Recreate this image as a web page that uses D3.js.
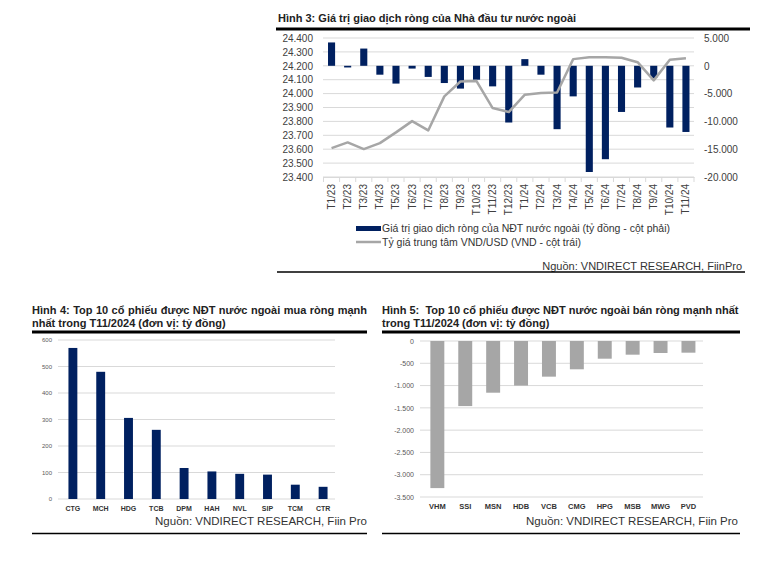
<!DOCTYPE html>
<html><head><meta charset="utf-8">
<script src="https://cdn.jsdelivr.net/npm/d3@7"></script>
<style>
body{margin:0;background:#fff;}
svg{display:block;font-family:"Liberation Sans",Arial,sans-serif;}
</style></head>
<body>
<svg id="c" width="775" height="577"></svg>
<script>
// ---------- DATA ----------
const months = ["T1/23","T2/23","T3/23","T4/23","T5/23","T6/23","T7/23","T8/23","T9/23","T10/23","T11/23","T12/23",
  "T1/24","T2/24","T3/24","T4/24","T5/24","T6/24","T7/24","T8/24","T9/24","T10/24","T11/24"];
const netFlow = [4200,-300,3100,-1600,-3200,-500,-2000,-3100,-4100,-2500,-3700,-10200,
  1200,-1600,-11400,-5500,-19100,-16800,-8300,-3900,-2200,-11100,-11900];
const fxRate = [23608,23649,23601,23644,23721,23802,23735,23980,24087,24090,23896,23867,
  23992,24004,24008,24248,24262,24262,24258,24226,24095,24243,24255];
const leftTicks = [23400,23500,23600,23700,23800,23900,24000,24100,24200,24300,24400];
const rightTicks = [-20000,-15000,-10000,-5000,0,5000];

const buyStocks = ["CTG","MCH","HDG","TCB","DPM","HAH","NVL","SIP","TCM","CTR"];
const buyValues = [570,480,306,261,117,104,95,92,54,46];
const buyTicks = [0,100,200,300,400,500,600];

const sellStocks = ["VHM","SSI","MSN","HDB","VCB","CMG","HPG","MSB","MWG","PVD"];
const sellValues = [-3300,-1460,-1160,-1000,-800,-635,-397,-307,-269,-262];
const sellTicks = [-3500,-3000,-2500,-2000,-1500,-1000,-500,0];

const title3 = "Hình 3: Giá trị giao dịch ròng của Nhà đầu tư nước ngoài";
const title4 = ["Hình 4: Top 10 cổ phiếu được NĐT nước ngoài mua ròng mạnh","nhất trong T11/2024 (đơn vị: tỷ đồng)"];
const title5 = ["Hình 5:  Top 10 cổ phiếu được NĐT nước ngoài bán ròng mạnh nhất","trong T11/2024 (đơn vị: tỷ đồng)"];
const legend3 = ["Giá trị giao dịch ròng của NĐT nước ngoài (tỷ đồng - cột phải)","Tỷ giá trung tâm VND/USD (VND - cột trái)"];
const source3 = "Nguồn: VNDIRECT RESEARCH, FiinPro";
const source45 = "Nguồn: VNDIRECT RESEARCH, Fiin Pro";

// ---------- SETUP ----------
const loc = d3.formatLocale({decimal:",",thousands:".",grouping:[3],currency:["",""],minus:"-"});
const fmt = loc.format(",.0f");
const svg = d3.select("#c");
const NAVY = "#002060", GRAY = "#a6a6a6", GRID = "#d9d9d9", TXT = "#404040";

function rule(x1,x2,y,w){ svg.append("line").attr("x1",x1).attr("x2",x2).attr("y1",y).attr("y2",y).attr("stroke","#000").attr("stroke-width",w); }
function justify(sel, width){
  const n = sel.node(); const len = n.getComputedTextLength();
  const spaces = (sel.text().match(/ /g)||[]).length;
  if (spaces>0 && len<width) sel.attr("word-spacing",(width-len)/spaces);
}

// ---------- CHART 1 ----------
svg.append("text").attr("x",278).attr("y",22).attr("font-size",11).attr("font-weight","bold").attr("fill","#222").text(title3);
rule(276,750,29,3);

const x1 = d3.scaleBand().domain(months).range([323.5,694]).paddingInner(0.56).paddingOuter(0.28);
const yL = d3.scaleLinear().domain([23400,24400]).range([177,38]);
const yR = d3.scaleLinear().domain([-20000,5000]).range([177,38]);
const g1 = svg.append("g");
g1.selectAll("line.grid").data(leftTicks).join("line").attr("class","grid")
  .attr("x1",323).attr("x2",694).attr("y1",d=>yL(d)).attr("y2",d=>yL(d)).attr("stroke",GRID).attr("stroke-width",1);
// left axis
const axL = g1.append("g").attr("transform","translate(323,0)").call(d3.axisLeft(yL).tickValues(leftTicks).tickFormat(fmt).tickSize(0).tickPadding(10));
axL.select(".domain").remove();
axL.selectAll("text").attr("font-size",10).attr("fill",TXT).attr("font-family","Liberation Sans, Arial");
// right axis
const axR = g1.append("g").attr("transform","translate(694,0)").call(d3.axisRight(yR).tickValues(rightTicks).tickFormat(fmt).tickSize(0).tickPadding(10));
axR.select(".domain").remove();
axR.selectAll("text").attr("font-size",10).attr("fill",TXT).attr("font-family","Liberation Sans, Arial");
// bars
g1.selectAll("rect.bar").data(months).join("rect").attr("class","bar")
  .attr("x",d=>x1(d)).attr("width",x1.bandwidth())
  .attr("y",(d,i)=>yR(Math.max(0,netFlow[i]))).attr("height",(d,i)=>Math.abs(yR(netFlow[i])-yR(0)))
  .attr("fill",NAVY);
// line
const line = d3.line().x((d,i)=>x1(months[i])+x1.bandwidth()/2).y(d=>yL(d));
g1.append("path").datum(fxRate).attr("d",line).attr("fill","none").attr("stroke",GRAY).attr("stroke-width",2.5).attr("stroke-linejoin","round");
// bottom axis
const axB = g1.append("g").attr("transform","translate(0,177)").call(d3.axisBottom(x1).tickSize(0).tickPadding(0));
axB.select(".domain").attr("stroke",GRID);
axB.selectAll("text").remove();
const step = x1.step();
g1.selectAll("line.tk").data(d3.range(months.length+1)).join("line").attr("class","tk")
  .attr("x1",i=>323.5+i*step).attr("x2",i=>323.5+i*step).attr("y1",177).attr("y2",182).attr("stroke",GRID);
g1.selectAll("text.xl").data(months).join("text").attr("class","xl")
  .attr("transform",d=>`translate(${x1(d)+x1.bandwidth()/2+3.5},184) rotate(-90)`)
  .attr("text-anchor","end").attr("font-size",10).attr("fill",TXT).text(d=>d);
// legend
svg.append("rect").attr("x",356).attr("y",226).attr("width",25).attr("height",5).attr("fill",NAVY);
svg.append("text").attr("x",382).attr("y",232).attr("font-size",10.5).attr("fill","#333").text(legend3[0]);
svg.append("line").attr("x1",356).attr("x2",381).attr("y1",242).attr("y2",242).attr("stroke",GRAY).attr("stroke-width",2.5);
svg.append("text").attr("x",382).attr("y",246).attr("font-size",10.5).attr("fill","#333").text(legend3[1]);
svg.append("text").attr("x",742).attr("y",270).attr("text-anchor","end").attr("font-size",11).attr("fill","#333").text(source3);
rule(277,745,272,1.5);

// ---------- CHART 2 ----------
const t4a = svg.append("text").attr("x",32).attr("y",314).attr("font-size",11).attr("font-weight","bold").attr("fill","#222").text(title4[0]);
justify(t4a, 335);
svg.append("text").attr("x",32).attr("y",327).attr("font-size",11).attr("font-weight","bold").attr("fill","#222").text(title4[1]);
rule(32,367,332,3);
const x2 = d3.scaleBand().domain(buyStocks).range([59,337]).paddingInner(0.68).paddingOuter(0.34);
const y2 = d3.scaleLinear().domain([0,600]).range([499,340]);
const g2 = svg.append("g");
g2.selectAll("line").data(buyTicks).join("line").attr("x1",58).attr("x2",335).attr("y1",d=>y2(d)).attr("y2",d=>y2(d)).attr("stroke",GRID);
const ax2 = g2.append("g").attr("transform","translate(58,0)").call(d3.axisLeft(y2).tickValues(buyTicks).tickFormat(fmt).tickSize(0).tickPadding(6));
ax2.select(".domain").remove();
ax2.selectAll("text").attr("font-size",6).attr("fill","#595959").attr("font-family","Liberation Sans, Arial");
g2.selectAll("rect").data(buyStocks).join("rect").attr("x",d=>x2(d)).attr("width",x2.bandwidth())
  .attr("y",(d,i)=>y2(buyValues[i])).attr("height",(d,i)=>y2(0)-y2(buyValues[i])).attr("fill",NAVY);
const ax2b = g2.append("g").attr("transform","translate(0,499)").call(d3.axisBottom(x2).tickSize(0).tickPadding(7));
ax2b.select(".domain").remove();
ax2b.selectAll("text").attr("font-size",7).attr("font-weight","bold").attr("fill","#333").attr("font-family","Liberation Sans, Arial");
svg.append("text").attr("x",367).attr("y",525).attr("text-anchor","end").attr("font-size",11.5).attr("fill","#333").text(source45);
rule(32,367,533.5,1.5);

// ---------- CHART 3 ----------
const t5a = svg.append("text").attr("x",382).attr("y",314).attr("font-size",11).attr("font-weight","bold").attr("fill","#222").attr("xml:space","preserve").text(title5[0]);
justify(t5a, 356);
svg.append("text").attr("x",382).attr("y",327).attr("font-size",11).attr("font-weight","bold").attr("fill","#222").text(title5[1]);
rule(382,740,332,3);
const x3 = d3.scaleBand().domain(sellStocks).range([423.4,702.4]).paddingInner(0.5).paddingOuter(0.25);
const y3 = d3.scaleLinear().domain([-3500,0]).range([497,341]);
const g3 = svg.append("g");
g3.selectAll("line").data(sellTicks).join("line").attr("x1",420).attr("x2",703).attr("y1",d=>y3(d)).attr("y2",d=>y3(d)).attr("stroke",GRID);
const ax3 = g3.append("g").attr("transform","translate(420,0)").call(d3.axisLeft(y3).tickValues(sellTicks).tickFormat(fmt).tickSize(0).tickPadding(6));
ax3.select(".domain").remove();
ax3.selectAll("text").attr("font-size",7).attr("fill","#595959").attr("font-family","Liberation Sans, Arial");
g3.selectAll("rect").data(sellStocks).join("rect").attr("x",d=>x3(d)).attr("width",x3.bandwidth())
  .attr("y",y3(0)).attr("height",(d,i)=>y3(sellValues[i])-y3(0)).attr("fill",GRAY);
const ax3b = g3.append("g").attr("transform","translate(0,497)").call(d3.axisBottom(x3).tickSize(0).tickPadding(7));
ax3b.select(".domain").remove();
ax3b.selectAll("text").attr("font-size",7.5).attr("font-weight","bold").attr("fill","#333").attr("font-family","Liberation Sans, Arial");
svg.append("text").attr("x",738).attr("y",525).attr("text-anchor","end").attr("font-size",11.5).attr("fill","#333").text(source45);
rule(382,740,533.5,1.5);
</script>
</body></html>
